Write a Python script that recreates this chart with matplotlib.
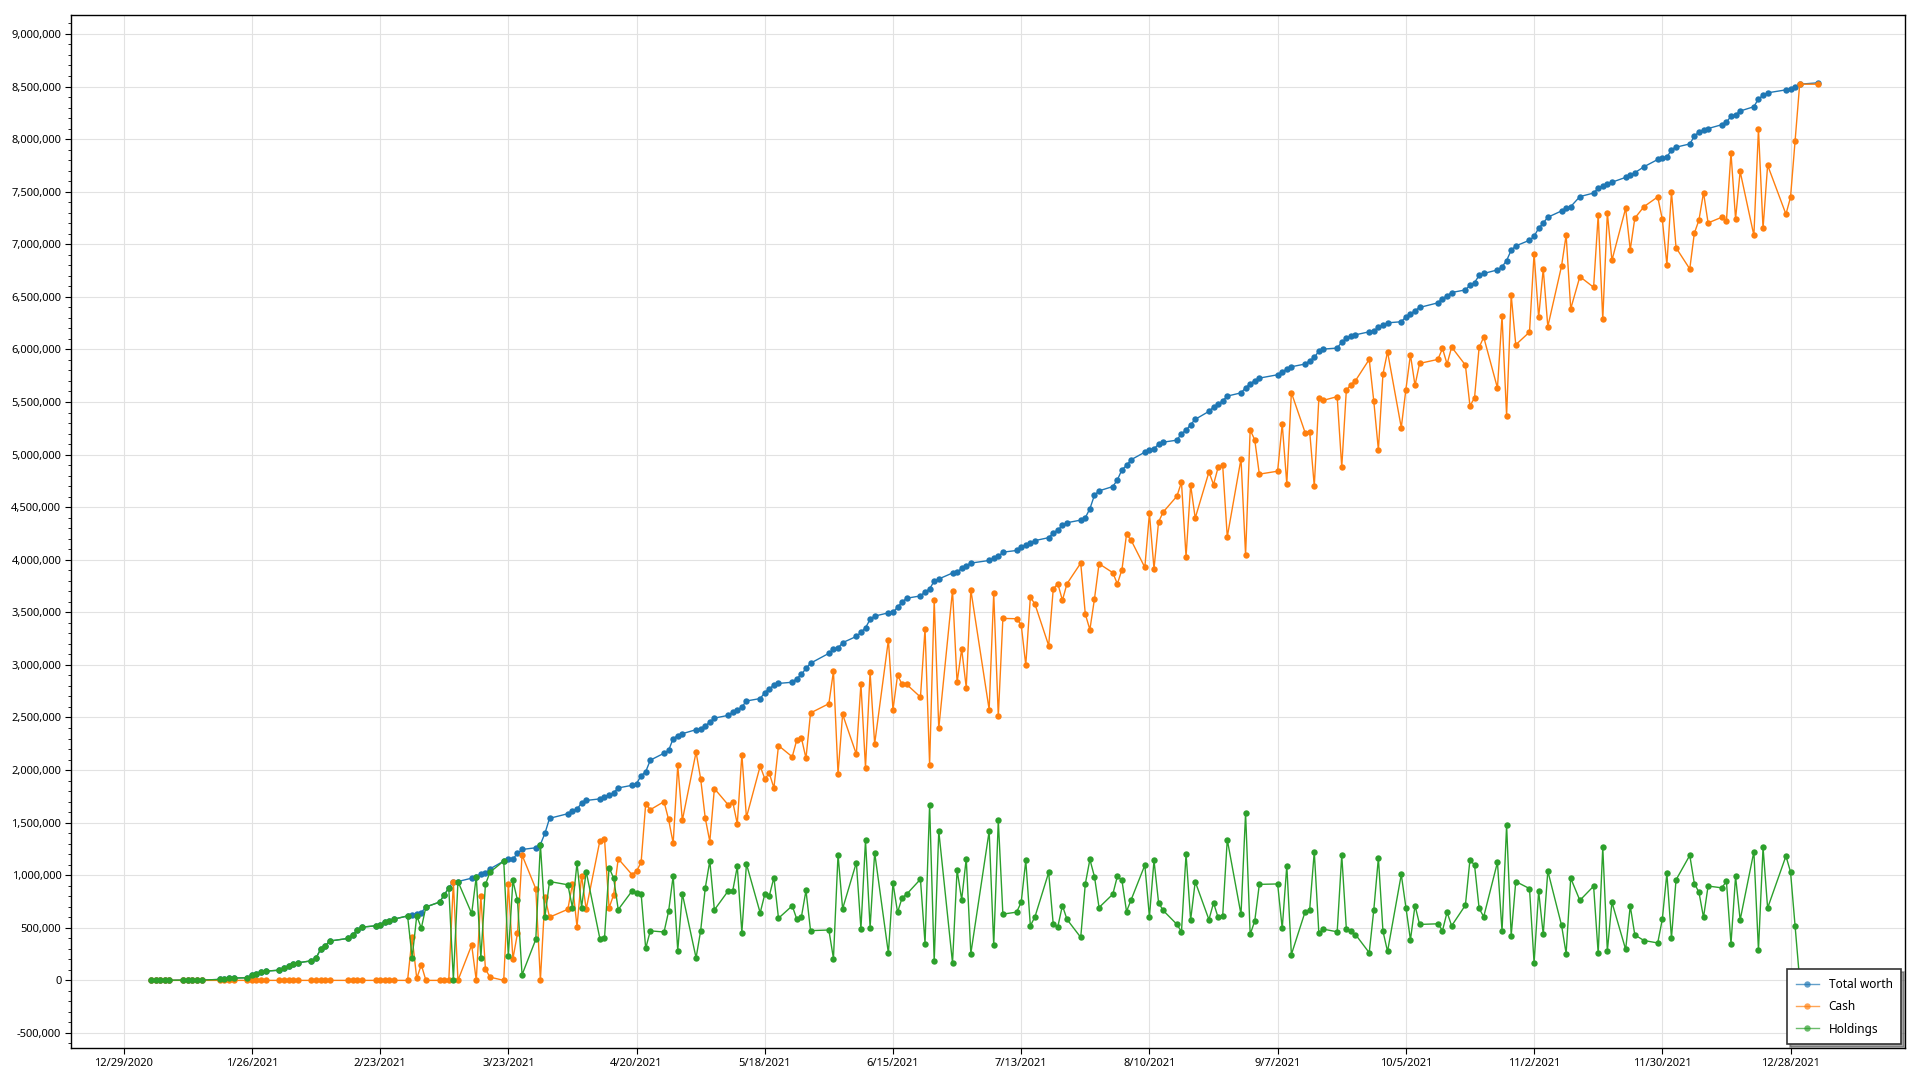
import pandas as pd
import matplotlib
matplotlib.use("Agg")
import matplotlib.pyplot as plt
from matplotlib.ticker import FuncFormatter, MultipleLocator

plt.rcParams['font.family'] = ['Noto Sans', 'DejaVu Sans']

# trading days shown (market holidays + days with no record left out)
closed = ['2021-01-18', '2021-02-15', '2021-04-02', '2021-05-31', '2021-07-05',
          '2021-09-06', '2021-11-25', '2021-12-24']
no_record = ['2021-10-11', '2021-11-11', '2021-12-31']
dates = pd.bdate_range('2021-01-04', '2022-01-03', freq='C', holidays=closed + no_record)

# values in millions
jan_total = [0.001, 0.001, 0.001, 0.001, 0.001, 0.003, 0.003, 0.003, 0.003, 0.003,
             0.009, 0.016, 0.019, 0.022, 0.025, 0.047, 0.060, 0.075, 0.088]
jan_cash = [0.0] * 19
jan_hold = [0.001, 0.001, 0.001, 0.001, 0.001, 0.003, 0.003, 0.003, 0.003, 0.003,
            0.009, 0.016, 0.019, 0.022, 0.025, 0.047, 0.060, 0.075, 0.088]

feb_total = [0.097, 0.116, 0.132, 0.154, 0.167, 0.186, 0.211, 0.296, 0.327, 0.374,
             0.399, 0.431, 0.475, 0.506, 0.519, 0.528, 0.553, 0.560, 0.582]
feb_cash = [0.0] * 19
feb_hold = [0.097, 0.116, 0.132, 0.154, 0.167, 0.186, 0.211, 0.296, 0.327, 0.374,
            0.399, 0.431, 0.475, 0.506, 0.519, 0.528, 0.553, 0.560, 0.582]

mar_total = [0.613, 0.626, 0.632, 0.645, 0.698, 0.745, 0.814, 0.877, 0.940, 0.940,
             0.972, 0.987, 1.013, 1.019, 1.060, 1.135, 1.151, 1.154, 1.208, 1.245,
             1.261, 1.292, 1.399]
mar_cash = [0.0, 0.409, 0.019, 0.148, 0.0, 0.0, 0.0, 0.0, 0.934, 0.0,
            0.336, 0.0, 0.802, 0.107, 0.031, 0.0, 0.918, 0.204, 0.447, 1.192,
            0.871, 0.0, 0.792]
mar_hold = [0.613, 0.217, 0.613, 0.497, 0.698, 0.745, 0.814, 0.877, 0.006, 0.940,
            0.636, 0.987, 0.211, 0.912, 1.029, 1.135, 0.233, 0.950, 0.761, 0.053,
            0.390, 1.292, 0.607]

apr_total = [1.541, 1.585, 1.610, 1.626, 1.689, 1.711, 1.726, 1.748, 1.761, 1.786,
             1.830, 1.855, 1.871, 1.947, 1.984, 2.094, 2.160, 2.186, 2.300, 2.327, 2.346]
apr_cash = [0.601, 0.676, 0.918, 0.509, 0.997, 0.676, 1.330, 1.349, 0.689, 0.814,
            1.157, 1.006, 1.038, 1.123, 1.680, 1.623, 1.700, 1.530, 1.305, 2.044, 1.522]
apr_hold = [0.940, 0.909, 0.692, 1.117, 0.692, 1.035, 0.396, 0.399, 1.072, 0.972,
            0.673, 0.849, 0.833, 0.824, 0.304, 0.471, 0.460, 0.656, 0.995, 0.283, 0.824]

may_total = [2.384, 2.390, 2.420, 2.456, 2.494, 2.520, 2.550, 2.570, 2.600, 2.657,
             2.680, 2.736, 2.774, 2.808, 2.824, 2.835, 2.870, 2.909, 2.967, 3.016]
may_cash = [2.170, 1.918, 1.544, 1.320, 1.824, 1.670, 1.700, 1.487, 2.145, 1.550,
            2.038, 1.918, 1.968, 1.830, 2.233, 2.126, 2.288, 2.306, 2.112, 2.543]
may_hold = [0.214, 0.472, 0.876, 1.136, 0.670, 0.850, 0.850, 1.083, 0.455, 1.107,
            0.642, 0.818, 0.806, 0.978, 0.591, 0.709, 0.582, 0.603, 0.855, 0.473]

jun_total = [3.110, 3.148, 3.161, 3.211, 3.271, 3.309, 3.353, 3.432, 3.464, 3.495,
             3.500, 3.549, 3.600, 3.634, 3.656, 3.694, 3.722, 3.798, 3.817, 3.874,
             3.883, 3.918]
jun_cash = [2.631, 2.940, 1.965, 2.530, 2.151, 2.820, 2.022, 2.930, 2.249, 3.237,
            2.574, 2.902, 2.814, 2.814, 2.694, 3.344, 2.050, 3.618, 2.397, 3.707,
            2.833, 3.151]
jun_hold = [0.479, 0.208, 1.196, 0.681, 1.120, 0.489, 1.331, 0.502, 1.215, 0.258,
            0.926, 0.647, 0.786, 0.820, 0.962, 0.350, 1.672, 0.180, 1.420, 0.167,
            1.050, 0.767]

jul_total = [3.943, 3.968, 3.993, 4.015, 4.031, 4.072, 4.088, 4.125, 4.138, 4.163,
             4.182, 4.210, 4.255, 4.283, 4.327, 4.352, 4.377, 4.400, 4.485, 4.614, 4.655]
jul_cash = [2.785, 3.713, 2.575, 3.681, 2.510, 3.442, 3.439, 3.382, 2.998, 3.644,
            3.578, 3.184, 3.722, 3.772, 3.615, 3.772, 3.968, 3.483, 3.335, 3.628, 3.962]
jul_hold = [1.158, 0.255, 1.418, 0.334, 1.521, 0.630, 0.649, 0.743, 1.140, 0.519,
            0.604, 1.026, 0.533, 0.511, 0.712, 0.580, 0.409, 0.917, 1.150, 0.986, 0.693]

aug_total = [4.696, 4.759, 4.856, 4.897, 4.951, 5.023, 5.045, 5.055, 5.099, 5.118,
             5.137, 5.200, 5.231, 5.285, 5.335, 5.411, 5.452, 5.477, 5.512, 5.556,
             5.587, 5.635]
aug_cash = [3.877, 3.770, 3.905, 4.242, 4.186, 3.927, 4.440, 3.914, 4.360, 4.453,
            4.604, 4.737, 4.028, 4.711, 4.396, 4.834, 4.715, 4.878, 4.897, 4.217,
            4.960, 4.043]
aug_hold = [0.819, 0.989, 0.951, 0.655, 0.765, 1.096, 0.605, 1.141, 0.739, 0.665,
            0.533, 0.463, 1.203, 0.574, 0.939, 0.577, 0.737, 0.599, 0.615, 1.339,
            0.627, 1.592]

sep_total = [5.672, 5.704, 5.727, 5.759, 5.785, 5.813, 5.835, 5.861, 5.892, 5.924,
             5.984, 6.003, 6.013, 6.070, 6.104, 6.130, 6.139, 6.168, 6.177, 6.209, 6.234]
sep_cash = [5.234, 5.140, 4.814, 4.842, 5.291, 4.722, 5.589, 5.209, 5.218, 4.699,
            5.535, 5.516, 5.551, 4.880, 5.611, 5.665, 5.703, 5.905, 5.506, 5.044, 5.766]
sep_hold = [0.438, 0.564, 0.913, 0.917, 0.494, 1.091, 0.246, 0.652, 0.674, 1.225,
            0.449, 0.487, 0.462, 1.190, 0.493, 0.465, 0.436, 0.263, 0.671, 1.165, 0.468]

oct_total = [6.253, 6.263, 6.310, 6.335, 6.370, 6.399, 6.443, 6.484, 6.509, 6.541,
             6.566, 6.611, 6.636, 6.703, 6.722, 6.756, 6.785, 6.845, 6.943, 6.984]
oct_cash = [5.978, 5.256, 5.617, 5.949, 5.658, 5.867, 5.905, 6.010, 5.861, 6.022,
            5.851, 5.462, 5.541, 6.019, 6.117, 5.633, 6.316, 5.370, 6.519, 6.044]
oct_hold = [0.275, 1.007, 0.693, 0.386, 0.712, 0.532, 0.538, 0.474, 0.648, 0.519,
            0.715, 1.149, 1.095, 0.684, 0.605, 1.123, 0.469, 1.475, 0.424, 0.940]

nov_total = [7.038, 7.076, 7.152, 7.203, 7.257, 7.317, 7.342, 7.358, 7.453, 7.487,
             7.535, 7.552, 7.577, 7.590, 7.636, 7.655, 7.680, 7.737, 7.806, 7.819]
nov_cash = [6.165, 6.911, 6.304, 6.766, 6.217, 6.793, 7.087, 6.386, 6.692, 6.591,
            7.279, 6.286, 7.298, 6.847, 7.342, 6.948, 7.248, 7.358, 7.450, 7.238]
nov_hold = [0.873, 0.165, 0.848, 0.437, 1.040, 0.524, 0.255, 0.972, 0.761, 0.896,
            0.256, 1.266, 0.279, 0.743, 0.294, 0.707, 0.432, 0.379, 0.356, 0.581]

dec_total = [7.825, 7.901, 7.923, 7.954, 8.027, 8.068, 8.090, 8.100, 8.137, 8.162,
             8.216, 8.229, 8.267, 8.308, 8.383, 8.415, 8.440, 8.468, 8.478, 8.497,
             8.522, 8.535]
dec_cash = [6.806, 7.500, 6.967, 6.765, 7.106, 7.229, 7.491, 7.203, 7.257, 7.219,
            7.869, 7.241, 7.692, 7.084, 8.096, 7.150, 7.752, 7.286, 7.446, 7.979,
            8.522, 8.522]
dec_hold = [1.019, 0.401, 0.956, 1.189, 0.921, 0.839, 0.599, 0.897, 0.880, 0.943,
            0.347, 0.988, 0.575, 1.224, 0.287, 1.265, 0.688, 1.182, 1.032, 0.518,
            0.000, 0.013]

total = (jan_total + feb_total + mar_total + apr_total + may_total + jun_total +
         jul_total + aug_total + sep_total + oct_total + nov_total + dec_total)
cash = (jan_cash + feb_cash + mar_cash + apr_cash + may_cash + jun_cash +
        jul_cash + aug_cash + sep_cash + oct_cash + nov_cash + dec_cash)
holdings = (jan_hold + feb_hold + mar_hold + apr_hold + may_hold + jun_hold +
            jul_hold + aug_hold + sep_hold + oct_hold + nov_hold + dec_hold)

series = [('Total worth', total, '#1f77b4'),
          ('Cash', cash, '#ff7f0e'),
          ('Holdings', holdings, '#2ca02c')]

x_ticks = pd.date_range('2020-12-29', periods=14, freq='28D')

fig = plt.figure(figsize=(19.2, 10.8), dpi=100)
ax = fig.add_axes([71 / 1920, 1 - 1048 / 1080, (1905 - 71) / 1920, (1048 - 15) / 1080])

for name, vals, col in series:
    ax.plot(dates, [v * 1e6 for v in vals], '-o', color=col, lw=1.0, ms=4.6,
            markeredgewidth=0, label=name)

ax.set_xlim(pd.Timestamp('2020-12-17 12:00'), pd.Timestamp('2022-01-22'))
ax.set_ylim(-643000, 9180000)

ax.set_xticks(x_ticks)
ax.set_xticklabels([f"{d.month}/{d.day}/{d.year}" for d in x_ticks])
ax.yaxis.set_major_locator(MultipleLocator(500000))
ax.yaxis.set_minor_locator(MultipleLocator(100000))
ax.yaxis.set_major_formatter(FuncFormatter(lambda v, p: f"{int(round(v)):,}"))

ax.grid(True, which='major', color='#e2e2e2', lw=0.8)
ax.set_axisbelow(True)
ax.tick_params(axis='both', which='major', labelsize=8, length=4, width=0.8,
               pad=3, colors='black')
ax.tick_params(axis='y', which='minor', length=2.5, width=0.6)
for s in ax.spines.values():
    s.set_color('black')
    s.set_linewidth(1.0)

leg = ax.legend(loc='lower right', fancybox=False, shadow=True, edgecolor='#333333',
                framealpha=1, fontsize=8.5, borderaxespad=0.35, handlelength=2.0,
                labelspacing=0.8, borderpad=0.7)
leg.get_frame().set_linewidth(1.2)
for h in leg.get_lines():
    h.set_alpha(0.7)

fig.savefig('out.png', dpi=100)
